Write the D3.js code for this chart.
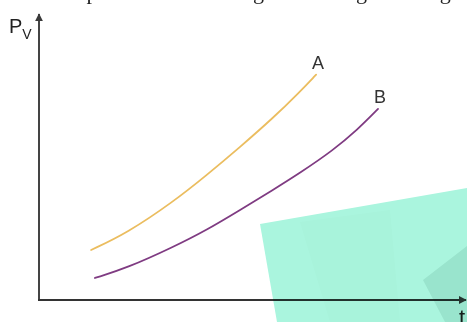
<!DOCTYPE html>
<html>
<head>
<meta charset="utf-8">
<script src="https://cdn.jsdelivr.net/npm/d3@7/dist/d3.min.js"></script>
<style>
  body { margin: 0; background: #fff; }
  svg { display: block; }
</style>
</head>
<body>
<div id="chart"></div>
<script>
// curve data (t, Pv), arbitrary units 0..100
var tA = [12.2, 20.6, 31.4, 39.3, 47.1, 54.8, 61.1, 64.9];
var pA = [17.5, 23.4, 34.3, 43.7, 53.5, 63.6, 72.8, 78.8];
var tB = [13.1, 20.6, 31.4, 39.3, 47.1, 54.8, 61.1, 68.9, 74.5, 79.4];
var pB = [7.7, 11.2, 18.5, 24.5, 31.5, 38.5, 44.4, 52.4, 59.4, 66.8];
var seriesNames = ["A", "B"];
var seriesColors = ["#ebbd5f", "#7f3b82"];

var width = 467, height = 322;

var svg = d3.select("#chart").append("svg")
    .attr("width", width)
    .attr("height", height);

// caption line above, cut off by the top edge as in the source
svg.append("text")
    .attr("x", -4)
    .attr("y", -1.5)
    .attr("textLength", 476)
    .style("font-family", "'Liberation Serif', 'DejaVu Serif', serif")
    .style("font-size", "22px")
    .style("fill", "#222")
    .text("nce sub represents them using a curve a given range .");

var xScale = d3.scaleLinear().domain([0, 100]).range([39, 466]);
var yScale = d3.scaleLinear().domain([0, 100]).range([300, 14]);

var defs = svg.append("defs");
defs.append("marker")
    .attr("id", "arrow")
    .attr("viewBox", "0 0 10 10")
    .attr("refX", 9)
    .attr("refY", 5)
    .attr("markerWidth", 4)
    .attr("markerHeight", 4)
    .attr("markerUnits", "strokeWidth")
    .attr("orient", "auto")
    .append("path")
    .attr("d", "M0,0L10,5L0,10Z")
    .attr("fill", "#3a3a3a");

/* axes */
var axes = svg.append("g").attr("class", "axes");
axes.append("line")
    .attr("x1", xScale(0)).attr("y1", yScale(0))
    .attr("x2", xScale(0)).attr("y2", yScale(100))
    .attr("stroke", "#444").attr("stroke-width", 2)
    .attr("marker-end", "url(#arrow)");
axes.append("line")
    .attr("x1", xScale(0) - 1).attr("y1", yScale(0))
    .attr("x2", xScale(100)).attr("y2", yScale(0))
    .attr("stroke", "#333").attr("stroke-width", 2)
    .attr("marker-end", "url(#arrow)");

// axis labels
var pv = svg.append("text")
    .attr("x", 9)
    .attr("y", 33)
    .style("font-family", "'Liberation Sans', Arial, sans-serif")
    .style("fill", "#222");
pv.append("tspan").style("font-size", "20px").text("P");
pv.append("tspan").attr("dy", 6).style("font-size", "14px").text("V");

svg.append("text")
    .attr("x", 459)
    .attr("y", 325)
    .style("font-family", "'Liberation Sans', Arial, sans-serif")
    .style("font-size", "22px")
    .style("fill", "#222")
    .text("t");

/* curves */
var series = [
    { name: seriesNames[0], values: tA.map((t, i) => ({ t: t, p: pA[i] })) },
    { name: seriesNames[1], values: tB.map((t, i) => ({ t: t, p: pB[i] })) }
];

var line = d3.line()
    .x(d => xScale(d.t))
    .y(d => yScale(d.p))
    .curve(d3.curveBasis);

svg.selectAll(".curve")
    .data(series).enter()
    .append("path")
    .attr("class", "curve")
    .attr("d", d => line(d.values))
    .attr("fill", "none")
    .attr("stroke", (d, i) => seriesColors[i])
    .attr("stroke-width", 1.8)
    .attr("stroke-linecap", "round");

svg.selectAll(".curve-label")
    .data(series).enter()
    .append("text")
    .attr("class", "curve-label")
    .attr("x", d => xScale(d.values[d.values.length - 1].t) + 2)
    .attr("y", d => yScale(d.values[d.values.length - 1].p) - 6)
    .attr("text-anchor", "middle")
    .style("font-family", "'Liberation Sans', Arial, sans-serif")
    .style("font-size", "18px")
    .style("fill", "#333")
    .text(d => d.name);

/* watermark patch, lower right (multiplied over the drawing) */
var wm = svg.append("g").attr("class", "watermark");
wm.append("polygon")
    .attr("points", "260,224 467,188 467,322 277,322")
    .attr("fill", "rgb(170,245,222)")
    .style("mix-blend-mode", "multiply");
wm.append("polygon")
    .attr("points", "423,280 467,246 467,322 445,322")
    .attr("fill", "rgb(230,238,236)")
    .style("mix-blend-mode", "multiply");
wm.append("polygon")
    .attr("points", "300,222 390,210 400,322 330,322")
    .attr("fill", "rgb(252,253,252)")
    .style("mix-blend-mode", "multiply");
</script>
</body>
</html>
